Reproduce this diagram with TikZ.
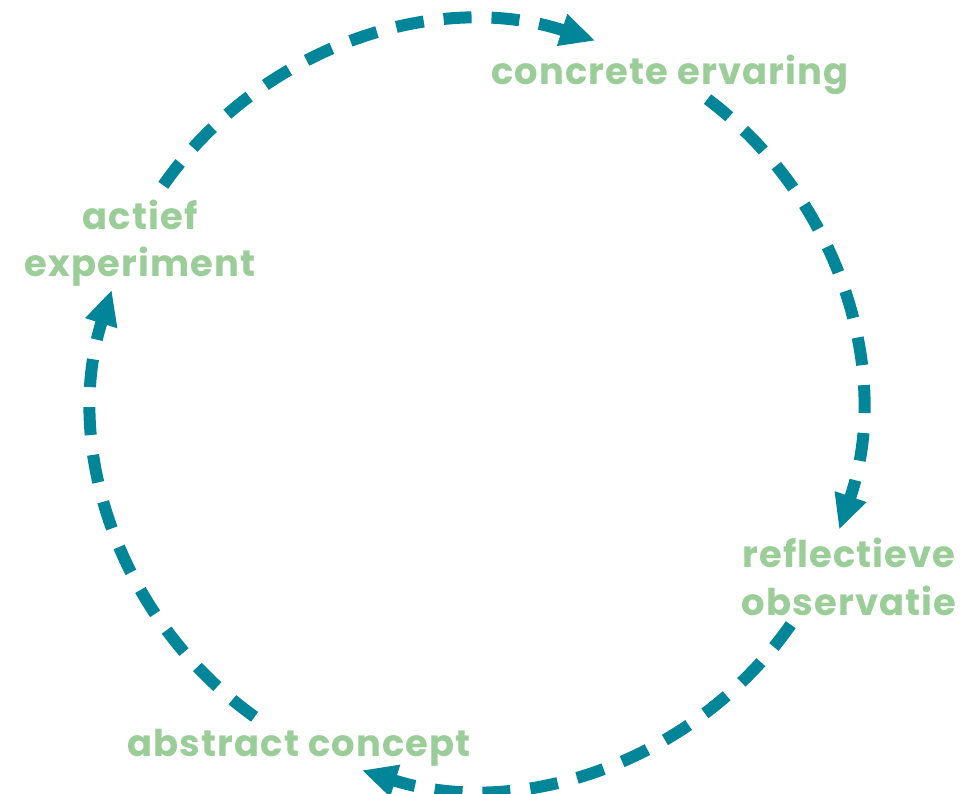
\documentclass[tikz,border=0pt]{standalone}
\usepackage{fontspec}
\setmainfont{Poppins}[LetterSpace=3]
\usetikzlibrary{arrows.meta,positioning}

\definecolor{kolbteal}{RGB}{0,133,153}
\definecolor{kolbgreen}{RGB}{155,205,152}

\tikzset{
  cyclearc/.style={draw=kolbteal, line width=0.24cm, dash pattern=on 0.56cm off 0.4cm,
    -{Triangle[length=0.7cm,width=0.62cm]}},
  stage/.style={text=kolbgreen, font=\fontsize{21}{27}\selectfont\bfseries, align=center, inner sep=0pt}
}

\begin{document}
\begin{tikzpicture}[x=0.02cm,y=0.02cm]

\useasboundingbox (0,0) rectangle (963,794);

\coordinate (c) at (477,389);

\node[stage] (ce) at (670,719) {concrete ervaring};
\node[stage] (ro) at (849,217) {reflectieve\\observatie};
\node[stage] (ac) at (299,46) {abstract concept};
\node[stage] (ae) at (140,551) {actief\\experiment};

\draw[cyclearc] (c) ++(145:383) arc[start angle=145, end angle=72, radius=383];
\draw[cyclearc] (c) ++(53:383) arc[start angle=53, end angle=-19, radius=383];
\draw[cyclearc] (c) ++(-35:383) arc[start angle=-35, end angle=-107.5, radius=383];
\draw[cyclearc] (c) ++(-125.5:383) arc[start angle=-125.5, end angle=-197.5, radius=383];

\end{tikzpicture}
\end{document}
